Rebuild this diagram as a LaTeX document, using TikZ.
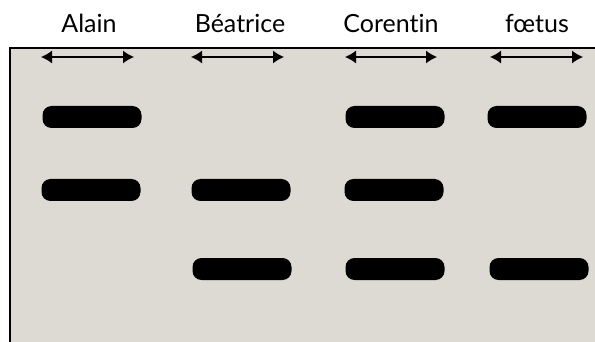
\documentclass[tikz,border=0pt]{standalone}
\usepackage{fontspec}
\setmainfont[Ligatures={NoCommon}]{Lato}
\usetikzlibrary{arrows.meta}
\definecolor{gel}{RGB}{220,218,210}
\tikzset{
  band/.style={fill=black, rounded corners=9pt, minimum width=99pt, minimum height=22pt, inner sep=0pt},
  widtharrow/.style={{Latex[length=11pt,width=13pt]}-{Latex[length=11pt,width=13pt]}, line width=1.4pt},
  lbl/.style={font=\fontsize{25}{28}\selectfont, inner sep=0pt, anchor=base}
}
\begin{document}
\begin{tikzpicture}[x=1pt,y=-1pt]
\useasboundingbox (0,0) rectangle (595,342);
\fill[gel] (10,48) rectangle (595,342);
\draw[line width=1.2pt] (10,342) -- (10,48) -- (595,48);
% labels
\node[lbl] (lA) at (89,33) {Alain};
\node[lbl] (lB) at (240,33) {Béatrice};
\node[lbl] (lC) at (391,33) {Corentin};
\node[lbl] (lF) at (537,33) {fœtus};
% arrows
\coordinate (a1) at (41,57); \coordinate (a2) at (134,57);
\coordinate (b1) at (191,57); \coordinate (b2) at (284,57);
\coordinate (c1) at (345,57); \coordinate (c2) at (437,57);
\coordinate (f1) at (490,57); \coordinate (f2) at (583,57);
\draw[widtharrow] (a1) -- (a2);
\draw[widtharrow] (b1) -- (b2);
\draw[widtharrow] (c1) -- (c2);
\draw[widtharrow] (f1) -- (f2);
% bands
\node[band] (A1) at (92,117) {};
\node[band] (C1) at (395,117) {};
\node[band] (F1) at (537,117) {};
\node[band] (A2) at (91,190) {};
\node[band] (B2) at (241,190) {};
\node[band] (C2) at (394,190) {};
\node[band] (B3) at (242,269) {};
\node[band] (C3) at (395,269) {};
\node[band] (F3) at (539,269) {};
\end{tikzpicture}
\end{document}
